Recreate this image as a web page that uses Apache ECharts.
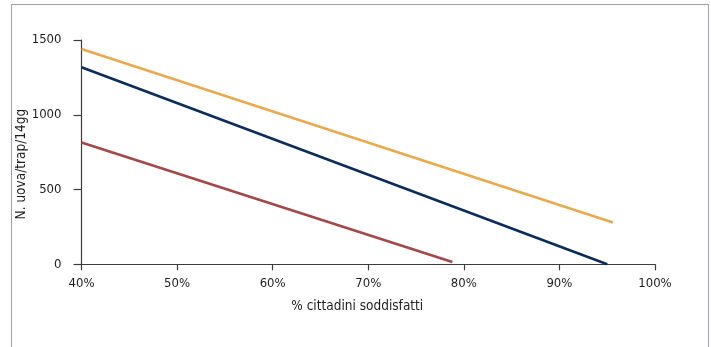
<!DOCTYPE html>
<html>
<head>
<meta charset="utf-8">
<script src="https://cdn.jsdelivr.net/npm/echarts@6/dist/echarts.min.js"></script>
<style>
html,body{margin:0;padding:0;background:#fff;overflow:hidden;}
#wrap{position:relative;width:711px;height:347px;}
#chart{position:absolute;left:0;top:0;width:711px;height:347px;}
#frame{position:absolute;left:11px;top:4px;width:696px;height:400px;border:1.5px solid #a09cba;pointer-events:none;}
</style>
</head>
<body>
<div id="wrap"><div id="frame"></div><div id="chart"></div></div>
<script>
var xTicks = [40, 50, 60, 70, 80, 90, 100];
var yTicks = [0, 500, 1000, 1500];
var xName = '% cittadini soddisfatti';
var yName = 'N. uova/trap/14gg';
var orangeSeries = [[40, 1440], [95.6, 280]];
var navySeries = [[40, 1318], [95, 0]];
var redSeries = [[40, 815], [78.8, 15]];

var font = '"DejaVu Sans Condensed", "Liberation Sans", sans-serif';
var axisColor = '#3c3c3c';
var chart = echarts.init(document.getElementById('chart'), null, {renderer: 'canvas'});
chart.setOption({
  animation: false,
  grid: {left: 81.5, right: 56, top: 40, bottom: 82.7, containLabel: false, outerBoundsMode: 'none'},
  xAxis: {
    type: 'value', min: xTicks[0], max: xTicks[xTicks.length - 1], interval: 10,
    name: xName, nameLocation: 'middle', nameGap: 35, nameMoveOverlap: false,
    nameTextStyle: {fontFamily: font, fontSize: 13.5, color: '#1e1e1e', padding: [0, 22, 0, 0]},
    axisLine: {show: true, onZero: false, lineStyle: {color: axisColor, width: 1.2}},
    axisTick: {show: true, length: 6, lineStyle: {color: axisColor, width: 1.2}},
    axisLabel: {fontFamily: font, fontSize: 13, color: '#1e1e1e', margin: 13, formatter: '{value}%'},
    splitLine: {show: false}
  },
  yAxis: {
    type: 'value', min: yTicks[0], max: yTicks[yTicks.length - 1], interval: 500,
    name: yName, nameLocation: 'middle', nameGap: 53, nameMoveOverlap: false,
    nameTextStyle: {fontFamily: font, fontSize: 13.5, color: '#1e1e1e', padding: [0, 24, 0, 0]},
    axisLine: {show: true, lineStyle: {color: axisColor, width: 1.2}},
    axisTick: {show: true, length: 8, lineStyle: {color: axisColor, width: 1.2}},
    axisLabel: {fontFamily: font, fontSize: 13, color: '#1e1e1e', margin: 20, formatter: function (v) { return String(v); }},
    splitLine: {show: false}
  },
  series: [
    {type: 'line', data: orangeSeries, symbol: 'none', lineStyle: {color: '#e8a94f', width: 2.6}},
    {type: 'line', data: navySeries, symbol: 'none', lineStyle: {color: '#0c2d5c', width: 2.6}},
    {type: 'line', data: redSeries, symbol: 'none', lineStyle: {color: '#a24848', width: 2.6}}
  ]
});
</script>
</body>
</html>
